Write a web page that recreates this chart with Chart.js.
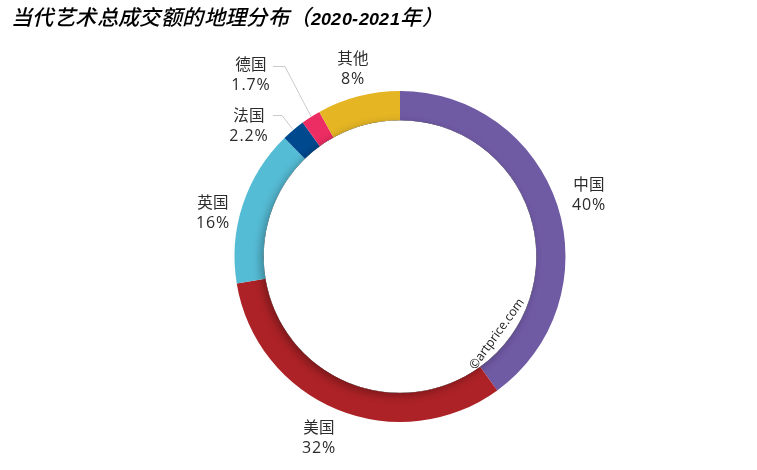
<!DOCTYPE html>
<html><head><meta charset="utf-8">
<style>
html,body{margin:0;padding:0;background:#fff}canvas{display:block}
@font-face{font-family:TitleLatin;src:local("Liberation Sans Bold Italic"),local("LiberationSans-BoldItalic");font-weight:bold;font-style:italic;size-adjust:84%;unicode-range:U+30-39,U+2D}
@font-face{font-family:TitleCJK;src:local("Noto Sans CJK SC Medium"),local("NotoSansCJKsc-Medium"),local("Noto Sans CJK SC"),local("Noto Sans CJK SC Regular"),local("NotoSansCJKsc-Regular");font-weight:bold;font-style:normal}
</style>
<script src="https://cdn.jsdelivr.net/npm/chart.js@4"></script></head>
<body><canvas id="c" width="757" height="470"></canvas>
<script>
const TITLE_TEXT = '当代艺术总成交额的地理分布（2020-2021年）';
const WATERMARK = '©artprice.com';
const categories = ['中国','美国','英国','法国','德国','其他'];
const arcShares = [40,32.4,15.3,2.3,1.9,8.1];
const shareLabels = ['40%','32%','16%','2.2%','1.7%','8%'];
const colors = ['#6F5AA4','#AD2226','#55BCD5','#00498F','#EC2D63','#E5B524'];
const FONT = '"Open Sans","Noto Sans CJK SC",sans-serif';

// label anchor relative to the ring centre, and optional leader polyline
const labelSpots = [[189,-62],[-81,181],[-187,-44],[-151,-131],[-149,-182],[-47,-188]];
const leaders = [null,null,null,[[-127,-141],[-118,-141],[-107,-127]],[[-127,-190],[-115,-190],[-89,-140]],null];

const ringExtras = {
  id:'ringExtras',
  afterDatasetsDraw(chart){
    const ctx = chart.ctx, arc = chart.getDatasetMeta(0).data[0];
    const cx = arc.x, cy = arc.y, R = arc.outerRadius, r = arc.innerRadius;
    // soft inner-edge shadow, clipped to the ring
    ctx.save();
    ctx.beginPath();
    ctx.arc(cx,cy,R,0,Math.PI*2);
    ctx.arc(cx,cy,r,0,Math.PI*2,true);
    ctx.clip('evenodd');
    ctx.shadowColor='rgba(0,0,0,0.3)';
    ctx.shadowBlur=8;
    ctx.shadowOffsetX=-3;
    ctx.shadowOffsetY=3;
    ctx.fillStyle='#000';
    ctx.beginPath();
    ctx.arc(cx,cy,r,0,Math.PI*2);
    ctx.fill();
    ctx.restore();

    // leaders
    ctx.save();
    ctx.strokeStyle='#BDBDBD';ctx.lineWidth=0.8;
    leaders.forEach(l=>{ if(!l) return;
      ctx.beginPath();
      l.forEach((p,i)=> i?ctx.lineTo(cx+p[0],cy+p[1]):ctx.moveTo(cx+p[0],cy+p[1]));
      ctx.stroke();
    });
    // labels
    ctx.fillStyle='#2b2b2b';ctx.textAlign='center';ctx.textBaseline='middle';
    categories.forEach((c,i)=>{
      const x=cx+labelSpots[i][0], y=cy+labelSpots[i][1];
      ctx.font='15.5px '+FONT;
      ctx.letterSpacing='0.3px';
      ctx.fillText(c,x,y-9);
      ctx.font='16px '+FONT;
      ctx.letterSpacing='0.9px';
      ctx.fillText(shareLabels[i],x,y+10.5);
    });
    ctx.letterSpacing='0px';
    // watermark
    ctx.save();
    ctx.translate(497,334);ctx.rotate(-54*Math.PI/180);
    ctx.fillStyle='#222';ctx.font='12.5px '+FONT;
    ctx.fillText(WATERMARK,0,0);
    ctx.restore();
    // title
    ctx.fillStyle='#000';ctx.textAlign='left';ctx.textBaseline='alphabetic';
    ctx.font='italic bold 21.2px TitleLatin,TitleCJK,"Noto Sans CJK SC",sans-serif';
    ctx.letterSpacing='0.4px';
    ctx.fillText(TITLE_TEXT,11,25);
    ctx.letterSpacing='0px';
    ctx.restore();
  }
};

function draw(){
  new Chart(document.getElementById('c'),{
    type:'doughnut',
    data:{labels:categories,datasets:[{data:arcShares,backgroundColor:colors,borderWidth:0}]},
    options:{
      responsive:false,animation:false,cutout:'82.4%',
      layout:{padding:{left:234.5,right:191.5,top:91,bottom:48}},
      plugins:{legend:{display:false},tooltip:{enabled:false},title:{display:false}}
    },
    plugins:[ringExtras]
  });
}
Promise.all([
  document.fonts.load('italic bold 21.2px TitleLatin','2020'),
  document.fonts.load('italic bold 21.2px TitleCJK','当')
]).then(draw,draw);
</script></body></html>
